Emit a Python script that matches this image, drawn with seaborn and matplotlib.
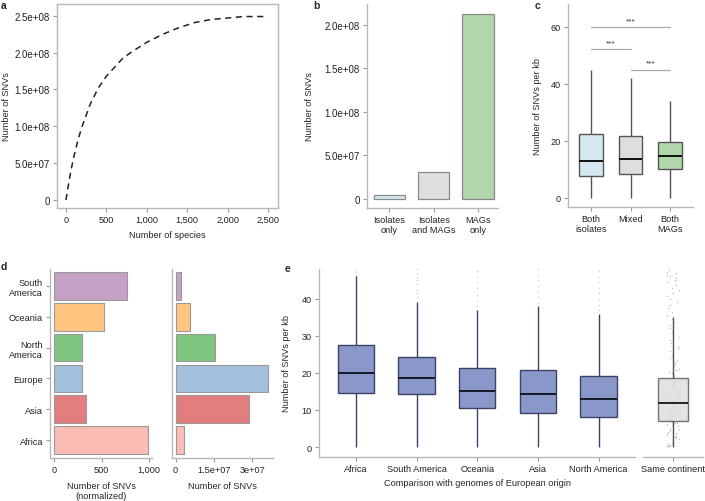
import numpy as np
import pandas as pd
import matplotlib
matplotlib.use("Agg")
import matplotlib.pyplot as plt
import seaborn as sns

sns.set_theme(style="white")
plt.rcParams['font.family'] = ['Liberation Sans', 'DejaVu Sans']
plt.rcParams['font.size'] = 6.6

# ---------------- data ----------------
# a: accumulation curve
species = [0, 25, 50, 75, 100, 150, 200, 300, 400, 500, 600, 700, 800, 1000,
           1200, 1400, 1600, 1800, 2000, 2200, 2500]
snvs_curve = [0.0, 0.17e8, 0.33e8, 0.47e8, 0.60e8, 0.82e8, 1.0e8, 1.30e8, 1.52e8,
              1.68e8, 1.80e8, 1.92e8, 2.0e8, 2.14e8, 2.25e8, 2.34e8, 2.41e8,
              2.45e8, 2.47e8, 2.49e8, 2.49e8]

# b: SNVs by source
b_cats = ["Isolates\nonly", "Isolates\nand MAGs", "MAGs\nonly"]
b_vals = [4.6e6, 3.1e7, 2.13e8]
src_colors = ["#d3e8f0", "#dedede", "#b2d6ab"]

# c: SNVs per kb, box summary [low whisker, Q1, median, Q3, high whisker]
c_cats = ["Both\nisolates", "Mixed", "Both\nMAGs"]
c_both_isolates = [0, 7.5, 13.0, 22.5, 45.0]
c_mixed = [0, 8.3, 13.8, 21.8, 42.0]
c_both_mags = [0, 10.0, 14.7, 19.7, 34.0]
sig_pairs = [(0, 2, 60.0), (0, 1, 52.3), (1, 2, 45.0)]

# d: SNVs by continent
continents = ["South\nAmerica", "Oceania", "North\nAmerica", "Europe", "Asia", "Africa"]
d_norm = [765, 530, 291, 291, 337, 986]
d_abs = [2.3e6, 5.8e6, 1.52e7, 3.62e7, 2.88e7, 3.35e6]
cont_colors = ["#c5a1c5", "#fec680", "#80c680", "#a3c0dc", "#e47d7d", "#fcbdb7"]

# e: comparison with European genomes, box summary
e_cats = ["Africa", "South America", "Oceania", "Asia", "North America"]
e_africa = [0, 14.6, 19.9, 27.5, 46.2]
e_south_america = [0, 14.2, 18.7, 24.2, 39.3]
e_oceania = [0, 10.5, 15.2, 21.3, 37.1]
e_asia = [0, 9.1, 14.2, 20.8, 38.2]
e_north_america = [0, 8.0, 12.9, 19.3, 35.9]
e_out_africa = [46.6, 47.2, 47.8]
e_out_south_america = [40.5, 41.5, 42.5, 44.0, 45.0, 46.0, 47.0, 48.0]
e_out_oceania = [38.0, 39.5, 41.0, 43.0, 44.5, 46.0, 47.5]
e_out_asia = [39.0, 40.5, 42.0, 43.5, 45.0, 46.5, 48.0]
e_out_north_america = [37.0, 38.5, 40.0, 41.5, 43.0, 44.5, 46.0, 47.5]
same_cat = ["Same continent"]
e_same = [0, 7.1, 12.0, 18.6, 35.0]
e_same_cloud = [0.2, 0.3, 0.4, 0.5, 0.6, 0.8, 1.2, 1.6, 2.1, 2.4, 2.8, 3.1, 3.5, 3.8,
                4.1, 4.4, 4.8, 5.0, 5.3, 5.6, 5.9, 6.1, 6.4, 6.6, 6.8, 7.0, 7.2, 7.4,
                7.6, 7.9, 8.1, 8.3, 8.4, 8.7, 8.9, 9.1, 9.3, 9.5, 9.8, 10.0, 10.2,
                10.4, 10.7, 10.9, 11.1, 11.3, 11.5, 11.7, 11.9, 12.1, 12.3, 12.6,
                12.8, 13.0, 13.2, 13.4, 13.6, 13.9, 14.1, 14.3, 14.5, 14.8, 15.0,
                15.3, 15.6, 15.9, 16.1, 16.4, 16.7, 17.0, 17.3, 17.6, 17.9, 18.2,
                18.5, 19.0, 19.4, 19.9, 20.3, 20.8, 21.2, 21.8, 22.4, 23.0, 23.5,
                24.1, 24.8, 25.4, 26.0, 26.7, 27.3, 28.1, 28.9, 29.6, 30.4, 31.2,
                32.1, 33.0, 33.8, 34.7, 35.6, 36.5, 37.5, 38.3, 39.2, 40.0, 40.8,
                41.6, 42.3, 43.1, 43.9, 44.5, 45.1, 45.7, 46.2, 46.6, 47.0, 47.4,
                47.8]

box_blue = "#8a97c9"
spine_col = "#b8b8b8"
TICK_FS = 6.6
LAB_FS = 6.6

fig = plt.figure(figsize=(7.05, 5.02), dpi=100)


def px_axes(x0, y0, x1, y1):
    W, H = 705, 502
    return fig.add_axes([x0 / W, 1 - y1 / H, (x1 - x0) / W, (y1 - y0) / H])


def style(ax, left=True, bottom=True, top=False, right=False):
    for side, on in zip(["left", "bottom", "top", "right"], [left, bottom, top, right]):
        ax.spines[side].set_visible(on)
        ax.spines[side].set_color(spine_col)
        ax.spines[side].set_linewidth(1.0)
    ax.tick_params(axis="both", which="both", length=3, width=0.8, color="#999999",
                   labelsize=TICK_FS, labelcolor="#222222", pad=2,
                   bottom=bottom, left=left)
    ax.grid(False)


# ---------------- a ----------------
ax_a = px_axes(57, 5, 278, 209)
sns.lineplot(x=species, y=snvs_curve, ax=ax_a, color="#222222", linewidth=1.1)
ax_a.lines[0].set_dashes([4, 3])
ax_a.set_xlim(-111, 2624)
ax_a.set_ylim(-1.09e7, 2.66e8)
ax_a.set_xticks([0, 500, 1000, 1500, 2000, 2500])
ax_a.set_xticklabels(["0", "500", "1,000", "1,500", "2,000", "2,500"])
ax_a.set_yticks([0, 5e7, 1e8, 1.5e8, 2e8, 2.5e8])
ax_a.set_yticklabels(["0", "5.0e+07", "1.0e+08", "1.5e+08", "2.0e+08", "2.5e+08"])
ax_a.set_xlabel("Number of species", fontsize=LAB_FS, labelpad=4)
ax_a.set_ylabel("Number of SNVs", fontsize=LAB_FS, labelpad=3)
style(ax_a, True, True, True, True)
ax_a.tick_params(top=False, right=False)
ax_a.tick_params(axis="y", labelsize=7)

# ---------------- b ----------------
ax_b = px_axes(367, 5, 498, 209)
sns.barplot(x=b_cats, y=b_vals, hue=b_cats, palette=src_colors, saturation=1, ax=ax_b,
            width=0.7, edgecolor="#8a8a8a", linewidth=0.9, legend=False)
ax_b.set_xlim(-0.5, 2.45)
ax_b.set_ylim(-1.03e7, 2.24e8)
ax_b.set_yticks([0, 5e7, 1e8, 1.5e8, 2e8])
ax_b.set_yticklabels(["0", "5.0e+07", "1.0e+08", "1.5e+08", "2.0e+08"])
ax_b.set_ylabel("Number of SNVs", fontsize=LAB_FS, labelpad=8)
style(ax_b)
ax_b.tick_params(axis="y", labelsize=7)

# ---------------- c ----------------
ax_c = px_axes(568, 5, 693, 208)
c_df = pd.DataFrame({
    "group": [c_cats[0]] * 5 + [c_cats[1]] * 5 + [c_cats[2]] * 5,
    "value": c_both_isolates + c_mixed + c_both_mags,
})
sns.boxplot(data=c_df, x="group", y="value", hue="group", order=c_cats, hue_order=c_cats,
            palette=src_colors, saturation=1, whis=(0, 100), width=0.6, showcaps=False,
            showfliers=False, linecolor="#555555", linewidth=1.0,
            medianprops={"color": "#111111", "linewidth": 1.4}, ax=ax_c, legend=False)
for x0, x1, y in sig_pairs:
    ax_c.plot([x0, x1], [y, y], color="#aaaaaa", linewidth=0.9)
    ax_c.text((x0 + x1) / 2, y + 1.0, "***", ha="center", va="bottom", fontsize=6,
              color="#333333")
ax_c.set_xlim(-0.58, 2.58)
ax_c.set_ylim(-3.2, 68)
ax_c.set_yticks([0, 20, 40, 60])
ax_c.set_xlabel("")
ax_c.set_ylabel("Number of SNVs per kb", fontsize=LAB_FS, labelpad=6)
style(ax_c)

# ---------------- d ----------------
ax_d1 = px_axes(50, 270, 152, 459)
sns.barplot(x=d_norm, y=continents, hue=continents, palette=cont_colors, saturation=1,
            orient="h", width=0.9, edgecolor="#999999", linewidth=0.8, ax=ax_d1,
            legend=False)
ax_d1.set_ylim(5.58, -0.55)
ax_d1.set_xlim(-42, 1030)
ax_d1.set_xticks([0, 500, 1000])
ax_d1.set_xticklabels(["0", "500", "1,000"])
ax_d1.set_xlabel("Number of SNVs\n(normalized)", fontsize=LAB_FS, labelpad=5)
ax_d1.set_ylabel("")
style(ax_d1)

ax_d2 = px_axes(172, 270, 273, 459)
sns.barplot(x=d_abs, y=continents, hue=continents, palette=cont_colors, saturation=1,
            orient="h", width=0.9, edgecolor="#999999", linewidth=0.8, ax=ax_d2,
            legend=False)
ax_d2.set_ylim(5.58, -0.55)
ax_d2.set_xlim(-1.4e6, 3.8e7)
ax_d2.set_xticks([0, 1.5e7, 3e7])
ax_d2.set_xticklabels(["0", "1.5e+07", "3e+07"])
ax_d2.set_yticks([])
ax_d2.set_xlabel("Number of SNVs", fontsize=LAB_FS, labelpad=5)
ax_d2.set_ylabel("")
style(ax_d2)

# ---------------- e ----------------
ax_e1 = px_axes(319, 270, 635, 458)
e_boxes = [e_africa, e_south_america, e_oceania, e_asia, e_north_america]
e_outs = [e_out_africa, e_out_south_america, e_out_oceania, e_out_asia, e_out_north_america]
e_df = pd.DataFrame({
    "group": sum([[c] * len(v) for c, v in zip(e_cats, e_boxes)], []),
    "value": sum(e_boxes, []),
})
o_df = pd.DataFrame({
    "group": sum([[c] * len(v) for c, v in zip(e_cats, e_outs)], []),
    "value": sum(e_outs, []),
})
sns.stripplot(data=o_df, x="group", y="value", order=e_cats, jitter=False, size=1.0,
              color="#aaaaaa", alpha=0.6, ax=ax_e1, zorder=1)
sns.boxplot(data=e_df, x="group", y="value", order=e_cats, color=box_blue, saturation=1,
            whis=(0, 100), width=0.6, showcaps=False, showfliers=False,
            linecolor="#3b4466", linewidth=1.0,
            medianprops={"color": "#15192b", "linewidth": 1.4}, ax=ax_e1)
ax_e1.set_xlim(-0.61, 4.6)
ax_e1.set_ylim(-2.7, 48.1)
ax_e1.set_yticks([0, 10, 20, 30, 40])
ax_e1.set_xlabel("Comparison with genomes of European origin", fontsize=LAB_FS,
                 labelpad=4)
ax_e1.set_ylabel("Number of SNVs per kb", fontsize=LAB_FS, labelpad=8)
style(ax_e1)

ax_e2 = px_axes(643, 270, 703, 458)
s_df = pd.DataFrame({"group": same_cat * len(e_same), "value": e_same})
c2_df = pd.DataFrame({"group": same_cat * len(e_same_cloud), "value": e_same_cloud})
sns.stripplot(data=c2_df, x="group", y="value", jitter=0.13, size=1.0, color="#a0a0a0",
              alpha=0.7, ax=ax_e2, zorder=1)
sns.boxplot(data=s_df, x="group", y="value", color="#dcdcdc", saturation=1,
            whis=(0, 100), width=0.6, showcaps=False, showfliers=False,
            linecolor="#555555", linewidth=1.0, boxprops={"alpha": 0.8},
            medianprops={"color": "#222222", "linewidth": 1.4}, ax=ax_e2)
ax_e2.set_xlim(-0.6, 0.6)
ax_e2.set_ylim(-2.7, 48.1)
ax_e2.set_yticks([])
ax_e2.set_xlabel("")
ax_e2.set_ylabel("")
style(ax_e2, left=False)

# panel letters
for lab, (x, y) in {"a": (1, 1), "b": (313, 1), "c": (535, 1), "d": (1, 262),
                    "e": (285, 264)}.items():
    fig.text(x / 705, 1 - y / 502, lab, fontsize=7.5, fontweight="bold", ha="left",
             va="top")

fig.savefig("out.png", dpi=100)
